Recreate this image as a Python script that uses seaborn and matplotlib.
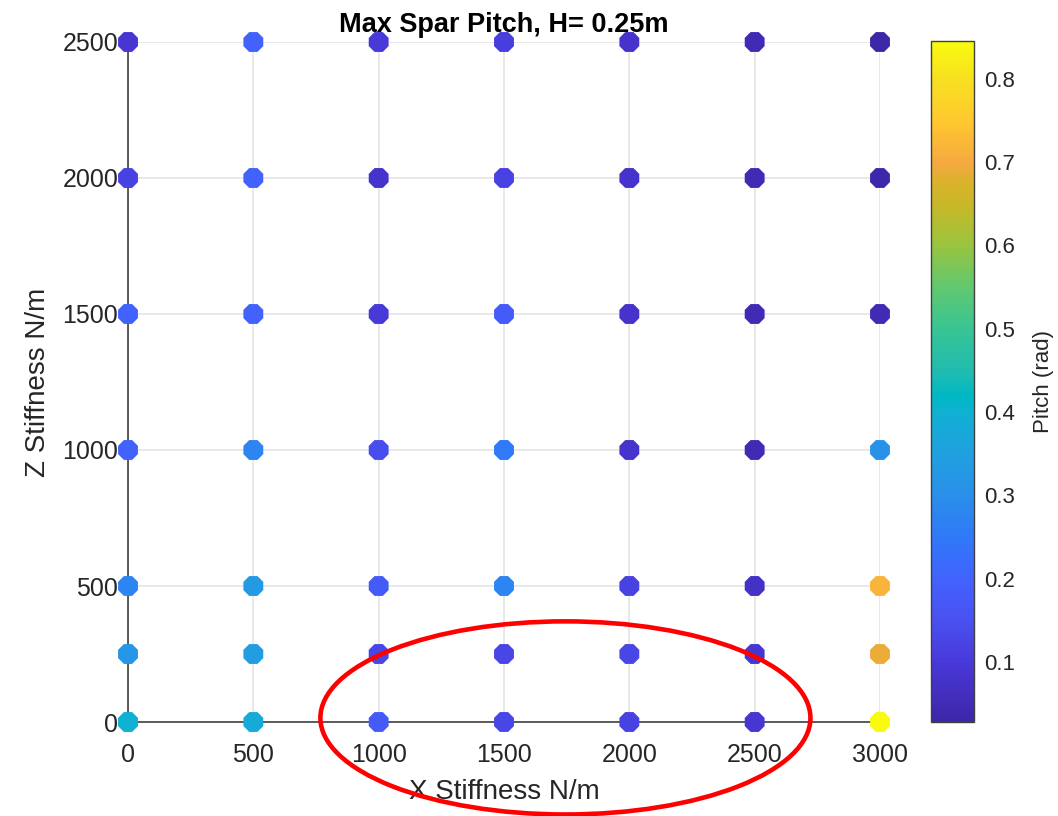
import numpy as np
import pandas as pd
import matplotlib
matplotlib.use("Agg")
import matplotlib.pyplot as plt
import seaborn as sns
from matplotlib.colors import LinearSegmentedColormap, Normalize
from matplotlib.patches import Ellipse

# ---------------- data ----------------
x_stiffness = [0, 500, 1000, 1500, 2000, 2500, 3000]
z_stiffness = [0, 250, 500, 1000, 1500, 2000, 2500]
# pitch (rad); rows = z_stiffness, columns = x_stiffness
pitch_z0    = [0.40, 0.38, 0.18, 0.13, 0.12, 0.09, 0.845]
pitch_z250  = [0.32, 0.34, 0.13, 0.13, 0.13, 0.09, 0.69]
pitch_z500  = [0.28, 0.33, 0.18, 0.28, 0.12, 0.07, 0.72]
pitch_z1000 = [0.20, 0.28, 0.14, 0.25, 0.08, 0.05, 0.31]
pitch_z1500 = [0.20, 0.20, 0.10, 0.18, 0.08, 0.05, 0.05]
pitch_z2000 = [0.12, 0.20, 0.08, 0.12, 0.08, 0.05, 0.033]
pitch_z2500 = [0.09, 0.20, 0.10, 0.11, 0.08, 0.05, 0.028]
x_ticks = [0, 500, 1000, 1500, 2000, 2500, 3000]
y_ticks = [0, 500, 1000, 1500, 2000, 2500]
cbar_ticks = [0.1, 0.2, 0.3, 0.4, 0.5, 0.6, 0.7, 0.8]

rows = [pitch_z0, pitch_z250, pitch_z500, pitch_z1000, pitch_z1500, pitch_z2000, pitch_z2500]
records = []
for z, row in zip(z_stiffness, rows):
    for x, p in zip(x_stiffness, row):
        records.append({"x": x, "z": z, "pitch": p})
df = pd.DataFrame(records)

# approximate MATLAB parula colormap (sampled visually)
parula_pts = [
    (0.000, "#3E26A8"),
    (0.085, "#4838D8"),
    (0.146, "#4A50F0"),
    (0.208, "#4262FE"),
    (0.269, "#3078F8"),
    (0.330, "#2A8EEA"),
    (0.392, "#20A0E0"),
    (0.453, "#10B0D4"),
    (0.478, "#00B8C4"),
    (0.515, "#20BCB0"),
    (0.576, "#38C494"),
    (0.638, "#60C870"),
    (0.699, "#98C440"),
    (0.760, "#C8B828"),
    (0.797, "#DCB22C"),
    (0.822, "#F5A840"),
    (0.883, "#FFC830"),
    (0.945, "#F8E020"),
    (1.000, "#F9FB0E"),
]
parula = LinearSegmentedColormap.from_list("parula", parula_pts)

vmin, vmax = min(df["pitch"]), max(df["pitch"])
norm = Normalize(vmin=vmin, vmax=vmax)

sns.set_theme(style="white")
plt.rcParams["font.family"] = ["Liberation Sans", "DejaVu Sans"]

fig = plt.figure(figsize=(10.58, 8.16), dpi=100)
ax = fig.add_axes([128 / 1058, 1 - 722 / 816, 752 / 1058, 680 / 816])
cax = fig.add_axes([931 / 1058, 1 - 722 / 816, 43 / 1058, 681 / 816])

sns.scatterplot(data=df, x="x", y="z", hue="pitch", palette=parula, hue_norm=norm,
                s=240, marker="8", edgecolor="none", legend=False, ax=ax,
                clip_on=False, zorder=3)

ax.set_xlim(0, 3000)
ax.set_ylim(0, 2500)
ax.set_xticks(x_ticks)
ax.set_yticks(y_ticks)
ax.grid(True, color="#e4e4e4", linewidth=1.2)
ax.set_axisbelow(True)
for side in ["top", "right"]:
    ax.spines[side].set_visible(False)
for side in ["left", "bottom"]:
    ax.spines[side].set_color("#404040")
    ax.spines[side].set_linewidth(1.2)
ax.tick_params(axis="both", labelsize=18, colors="#262626", length=0)
ax.tick_params(axis="x", pad=15)
ax.tick_params(axis="y", pad=7)
ax.set_xlabel("X Stiffness N/m", fontsize=20, color="#262626", labelpad=9)
ax.set_ylabel("Z Stiffness N/m", fontsize=20, color="#262626", labelpad=8)
title = ax.set_title("Max Spar Pitch, H= 0.25m", fontsize=19.5, fontweight="bold",
                     color="black", pad=7)
title.set_zorder(1)

# red ellipse annotation (data coordinates)
ell_center = (1745, 15)
ell_width, ell_height = 1955, 710
ax.add_patch(Ellipse(ell_center, ell_width, ell_height, fill=False, edgecolor="red",
                     linewidth=3.3, clip_on=False, zorder=5))

sm = plt.cm.ScalarMappable(norm=norm, cmap=parula)
cb = fig.colorbar(sm, cax=cax, ticks=cbar_ticks)
cb.outline.set_edgecolor("#404040")
cb.outline.set_linewidth(1.0)
cax.tick_params(labelsize=16, colors="#262626", length=6, direction="in", width=1.0,
                pad=7)
cb.set_label("Pitch (rad)", fontsize=16, color="#262626", labelpad=13)

fig.savefig("out.png", dpi=100)
